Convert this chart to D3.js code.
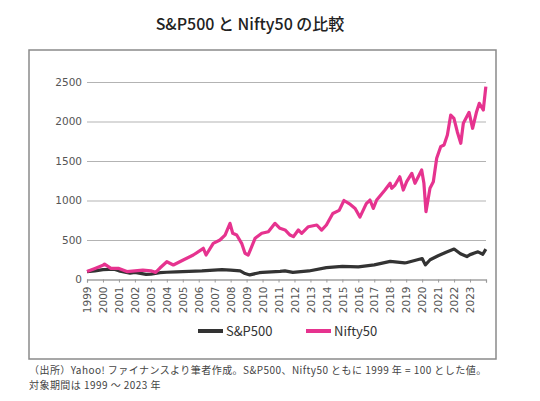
<!DOCTYPE html>
<html>
<head>
<meta charset="utf-8">
<script src="https://cdn.jsdelivr.net/npm/d3@7"></script>
<style>
  body { margin: 0; background: #fff; }
  text { font-family: "Noto Sans CJK JP", "Noto Sans", sans-serif; }
</style>
</head>
<body>
<div id="chart"></div>
<script>
// index values, 1999 = 100 (t = decimal year)
const spT = [1999.0, 1999.5, 2000.0, 2000.7, 2001.0, 2001.7, 2002.0, 2002.7, 2003.0, 2003.57,
  2004.0, 2004.6, 2005.0, 2006.2, 2007.45, 2008.0, 2008.6, 2008.9, 2009.2, 2009.8,
  2010.0, 2011.1, 2011.4, 2011.9, 2012.9, 2014.0, 2015.0, 2016.0, 2017.0, 2018.0,
  2018.9, 2019.0, 2020.0, 2020.2, 2020.5, 2021.0, 2021.5, 2022.0, 2022.4, 2022.8,
  2023.0, 2023.5, 2023.8, 2023.99];
const spV = [100, 110, 125, 130, 110, 80, 90, 65, 68, 86,
  92, 97, 100, 108, 125, 118, 108, 75, 58, 86,
  90, 104, 110, 91, 108, 150, 165, 160, 185, 230,
  210, 212, 265, 185, 250, 300, 345, 385, 325, 290,
  315, 350, 320, 385];

const niftyT = [1999.0, 1999.5, 2000.0, 2000.1, 2000.5, 2001.0, 2001.5, 2002.0, 2002.5, 2003.0,
  2003.3, 2003.57, 2004.0, 2004.41, 2005.03, 2005.66, 2006.29, 2006.46, 2006.91, 2007.33,
  2007.65, 2007.96, 2008.13, 2008.38, 2008.69, 2008.9, 2009.1, 2009.32, 2009.53, 2009.95,
  2010.36, 2010.78, 2011.09, 2011.41, 2011.72, 2011.93, 2012.24, 2012.45, 2012.87, 2013.4,
  2013.7, 2014.0, 2014.4, 2014.8, 2015.1, 2015.5, 2015.8, 2016.1, 2016.5, 2016.73,
  2016.94, 2017.15, 2017.67, 2017.99, 2018.09, 2018.3, 2018.6, 2018.82, 2019.03, 2019.35,
  2019.55, 2019.97, 2020.11, 2020.24, 2020.49, 2020.7, 2020.91, 2021.16, 2021.37, 2021.58,
  2021.79, 2021.99, 2022.2, 2022.42, 2022.58, 2022.94, 2023.16, 2023.41, 2023.58, 2023.83,
  2023.99];
const niftyV = [100, 140, 180, 195, 140, 140, 100, 110, 118, 110,
  90, 145, 225, 184, 247, 310, 395, 310, 458, 500,
  563, 711, 585, 563, 458, 332, 310, 415, 521, 585,
  605, 711, 648, 627, 563, 542, 627, 585, 668, 690,
  625, 690, 835, 875, 1000, 950, 900, 790, 960, 1006,
  900, 1006, 1133, 1218, 1154, 1196, 1300, 1133, 1238, 1344,
  1218, 1386, 1218, 858, 1154, 1238, 1534, 1681, 1703, 1829,
  2082, 2040, 1871, 1724, 1977, 2116, 1914, 2124, 2230, 2146,
  2441];

const years = d3.range(1999, 2025);
const yTicks = [0, 500, 1000, 1500, 2000, 2500];
const seriesNames = ["S&P500", "Nifty50"];
const colors = ["#333333", "#e6338f"];

const W = 540, H = 401;
const svg = d3.select("#chart").append("svg").attr("width", W).attr("height", H);

// outer frame
svg.append("rect")
  .attr("x", 29).attr("y", 50).attr("width", 467).attr("height", 309)
  .attr("fill", "none").attr("stroke", "#8a8a8a").attr("stroke-width", 1.5);

svg.append("text")
  .attr("x", 250).attr("y", 30)
  .attr("text-anchor", "middle")
  .attr("font-size", 16).attr("font-weight", 500).attr("fill", "#222")
  .text("S&P500 と Nifty50 の比較");

const x = d3.scaleLinear().domain([1999, 2024]).range([87, 486]);
const y = d3.scaleLinear().domain([0, 2500]).range([279.5, 82]);

// gridlines + y labels
const yAxis = svg.append("g")
  .attr("transform", "translate(87,0)")
  .call(d3.axisLeft(y).tickValues(yTicks).tickFormat(d3.format("d"))
    .tickSize(-(486 - 87)).tickPadding(5));
yAxis.select(".domain").remove();
yAxis.selectAll(".tick line").attr("stroke", "#b3b3b3").attr("stroke-width", 1.2);
yAxis.selectAll(".tick text").attr("fill", "#555")
  .style("font-family", "'DejaVu Sans', sans-serif").attr("font-size", 10.5);

// x axis
const xAxis = svg.append("g")
  .attr("transform", `translate(0,${y(0)})`)
  .call(d3.axisBottom(x).tickValues(years).tickSize(3)
    .tickFormat(d => d < 2024 ? d : ""));
xAxis.select(".domain").attr("stroke", "#999").attr("stroke-width", 1.2);
xAxis.selectAll(".tick line").attr("stroke", "#999");
xAxis.selectAll(".tick text")
  .style("font-family", "'DejaVu Sans', sans-serif").attr("font-size", 10.5).attr("fill", "#555")
  .attr("text-anchor", "end")
  .attr("transform", "rotate(-90)")
  .attr("x", -7).attr("y", 0).attr("dy", "0.35em");

const line = d3.line().x(d => x(d[0])).y(d => y(d[1]));

svg.append("path")
  .datum(d3.zip(spT, spV))
  .attr("fill", "none").attr("stroke", colors[0]).attr("stroke-width", 3.2)
  .attr("stroke-linejoin", "round")
  .attr("d", line);

svg.append("path")
  .datum(d3.zip(niftyT, niftyV))
  .attr("fill", "none").attr("stroke", colors[1]).attr("stroke-width", 3.2)
  .attr("stroke-linejoin", "round")
  .attr("d", line);

// legend
const legendX = [198, 306];
const legend = svg.append("g").selectAll("g").data(seriesNames).join("g")
  .attr("transform", (d, i) => `translate(${legendX[i]},331)`);
legend.append("line").attr("x1", 0).attr("x2", 25)
  .attr("stroke", (d, i) => colors[i]).attr("stroke-width", 4);
legend.append("text").attr("x", 28).attr("dy", "0.35em")
  .attr("font-size", 13).attr("fill", "#333").text(d => d);

// note
const notes = [
  "（出所）Yahoo! ファイナンスより筆者作成。S&P500、Nifty50 ともに 1999 年 = 100 とした値。",
  "対象期間は 1999 ～ 2023 年"
];
svg.append("g").selectAll("text").data(notes).join("text")
  .attr("x", 29).attr("y", (d, i) => 374 + i * 14.5)
  .attr("font-size", 10).attr("letter-spacing", 0.45).attr("fill", "#444")
  .text(d => d);
</script>
</body>
</html>
